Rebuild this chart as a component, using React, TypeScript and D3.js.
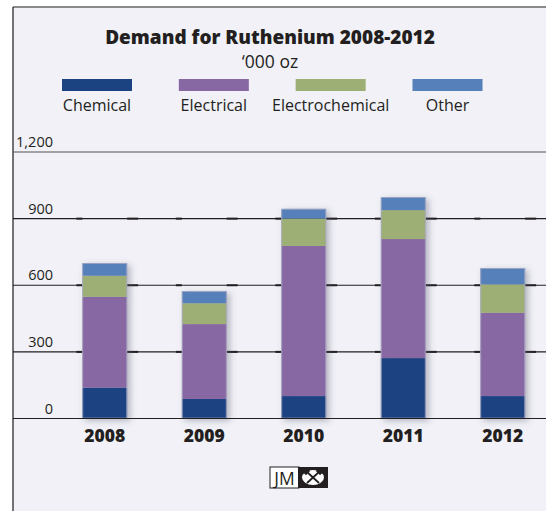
import React from "react";
import * as d3 from "d3";

const years = ["2008", "2009", "2010", "2011", "2012"];
const seriesNames = ["Chemical", "Electrical", "Electrochemical", "Other"];
const seriesColors = ["#1b4381", "#8868a3", "#9daf75", "#5580ba"];
const chemical = [139, 88, 101, 272, 101];
const electrical = [409, 337, 676, 536, 375];
const electrochemical = [95, 94, 123, 130, 128];
const other = [57, 54, 44, 59, 73];
const yTicks = [0, 300, 600, 900, 1200];

const W = 546;
const H = 511;
const frameLeft = 13;
const frameTop = 7;

export default function App() {
  const rows = years.map((y, i) => ({
    year: y,
    Chemical: chemical[i],
    Electrical: electrical[i],
    Electrochemical: electrochemical[i],
    Other: other[i],
  }));
  const stack = d3.stack<any>().keys(seriesNames)(rows);

  const x = d3
    .scaleBand<string>()
    .domain(years)
    .range([55, 552.5])
    .paddingInner(0.55)
    .paddingOuter(0.275);
  const y = d3.scaleLinear().domain([0, 1200]).range([418.5, 152]);
  const bw = x.bandwidth();

  const legendCenters = d3.scalePoint<string>().domain(seriesNames).range([97, 447.5]);
  const font = "'Open Sans', 'DejaVu Sans', sans-serif";

  return (
    <svg
      width={W}
      height={H}
      style={{ position: "absolute", left: 0, top: 0, display: "block" }}
      viewBox={`0 0 ${W} ${H}`}
    >
      <defs>
        <filter id="barShadow" x="-30%" y="-10%" width="170%" height="130%">
          <feDropShadow dx="3" dy="2" stdDeviation="3" floodColor="#5a5a70" floodOpacity="0.4" />
        </filter>
      </defs>
      <rect x={0} y={0} width={W} height={H} fill="#ffffff" />
      <rect x={frameLeft} y={frameTop} width={W - frameLeft} height={H - frameTop} fill="#f1f1f7" />
      <line x1={frameLeft} x2={W} y1={frameTop} y2={frameTop} stroke="#8a8a8a" strokeWidth={2} />
      <line x1={frameLeft} x2={frameLeft} y1={frameTop} y2={H} stroke="#2a2a2a" strokeWidth={1.3} />

      {/* title */}
      <text
        x={270}
        y={44}
        textAnchor="middle"
        fontFamily={font}
        fontWeight={800}
        fontSize={19}
        fill="#231f20"
      >
        Demand for Ruthenium 2008-2012
      </text>
      <text x={270} y={68} textAnchor="middle" fontFamily={font} fontSize={17.5} fill="#231f20">
        ‘000 oz
      </text>

      {/* legend */}
      {seriesNames.map((name, i) => {
        const cx = legendCenters(name)!;
        return (
          <g key={name}>
            <rect x={cx - 35} y={79} width={70} height={12} fill={seriesColors[i]} />
            <text
              x={cx}
              y={111}
              textAnchor="middle"
              fontFamily={font}
              fontSize={16}
              fill="#231f20"
            >
              {name}
            </text>
          </g>
        );
      })}

      {/* gridlines and y labels */}
      {yTicks.map((t) => (
        <g key={t}>
          <line
            x1={frameLeft}
            x2={W}
            y1={y(t)}
            y2={y(t)}
            stroke={t === 1200 ? "#555" : "#231f20"}
            strokeWidth={1.2}
          />
          <text
            x={53}
            y={y(t) - 5}
            textAnchor="end"
            fontFamily={font}
            fontSize={14.5}
            fill="#231f20"
          >
            {d3.format(",")(t)}
          </text>
        </g>
      ))}

      {/* darker gridline segments beside each bar */}
      {years.map((yr) =>
        yTicks
          .filter((t) => t > 0 && t < 1200)
          .map((t) => (
            <g key={yr + t}>
              <line
                x1={x(yr)! - 6}
                x2={x(yr)!}
                y1={y(t)}
                y2={y(t)}
                stroke="#231f20"
                strokeWidth={2}
              />
              <line
                x1={x(yr)! + bw}
                x2={x(yr)! + bw + 11}
                y1={y(t)}
                y2={y(t)}
                stroke="#231f20"
                strokeWidth={2}
              />
            </g>
          ))
      )}

      {/* bars */}
      {years.map((yr, j) => (
        <g key={yr} filter="url(#barShadow)">
          {stack.map((s, i) => (
            <rect
              key={s.key}
              x={x(yr)!}
              y={y(s[j][1])}
              width={bw}
              height={y(s[j][0]) - y(s[j][1])}
              fill={seriesColors[i]}
            />
          ))}
          <rect
            x={x(yr)! + 0.4}
            y={y(stack[3][j][1]) + 0.4}
            width={bw - 0.8}
            height={y(0) - y(stack[3][j][1]) - 0.8}
            fill="none"
            stroke="#a8a8c4"
            strokeWidth={0.8}
          />
        </g>
      ))}
      <line x1={frameLeft} x2={W} y1={y(0)} y2={y(0)} stroke="#231f20" strokeWidth={1.2} />

      {/* x labels */}
      {years.map((yr) => (
        <text
          key={yr}
          x={x(yr)! + bw / 2}
          y={442}
          textAnchor="middle"
          fontFamily={font}
          fontWeight={800}
          fontSize={17.5}
          fill="#231f20"
        >
          {yr}
        </text>
      ))}

      {/* logo */}
      <g>
        <rect x={270} y={467} width={29} height={21} fill="#ffffff" stroke="#231f20" strokeWidth={1} />
        <text
          x={284.5}
          y={484.5}
          textAnchor="middle"
          fontFamily={font}
          fontSize={17.5}
          fill="#231f20"
        >
          JM
        </text>
        <rect x={298} y={467} width={30} height={21} fill="#231f20" />
        <ellipse cx={313} cy={477.5} rx={11} ry={7.5} fill="#ffffff" />
        <line x1={307} x2={319} y1={472} y2={483} stroke="#231f20" strokeWidth={1.8} />
        <line x1={319} x2={307} y1={472} y2={483} stroke="#231f20" strokeWidth={1.8} />
        <rect x={304} y={470} width={6} height={3.5} fill="#231f20" transform="rotate(-45 307 472)" />
        <rect x={316} y={470} width={6} height={3.5} fill="#231f20" transform="rotate(45 319 472)" />
      </g>
    </svg>
  );
}
